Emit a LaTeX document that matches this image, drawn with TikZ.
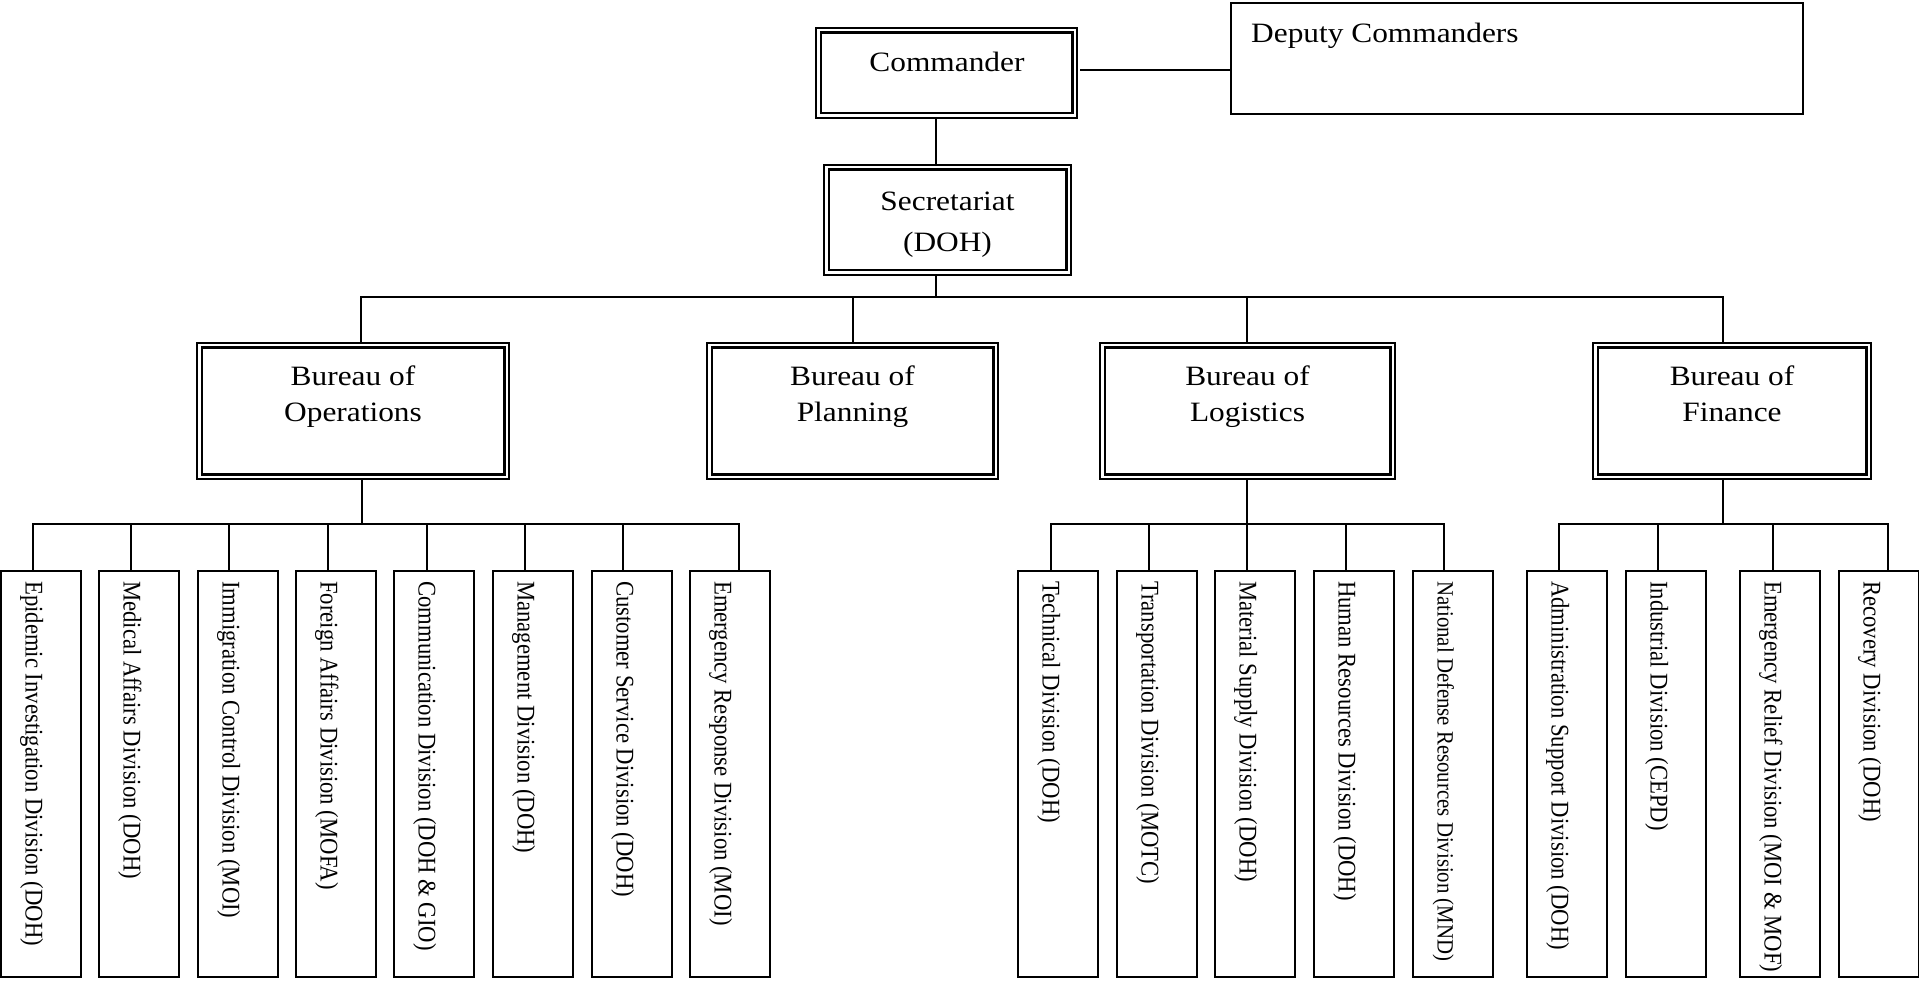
\documentclass[tikz,border=0pt]{standalone}
\usepackage{fontspec}
\setmainfont{Liberation Serif}
\newfontfamily\widefont[FakeStretch=1.12]{Liberation Serif}
\usepackage{graphicx}
\usetikzlibrary{calc}
\tikzset{
  dbox/.style={draw, line width=2.3pt, double, double distance=2.2pt, fill=white, outer sep=3.4pt, inner sep=0pt},
  sbox/.style={draw, line width=1.8pt, fill=white, outer sep=0.9pt, inner sep=0pt},
  divbox/.style={sbox, minimum width=80.2pt, minimum height=406.2pt, anchor=north west},
  conn/.style={line width=1.8pt, line cap=rect},
  bigtext/.style={font=\widefont\fontsize{28pt}{36pt}\selectfont, align=center, inner sep=0pt},
  divtext/.style={rotate=-90, anchor=base west, inner sep=0pt},
}
\newcommand{\vtxt}[2]{{\fontsize{#1pt}{#1pt}\selectfont\scalebox{1}[1.12]{#2}}}
\begin{document}
\begin{tikzpicture}[x=1pt,y=-1pt]
\useasboundingbox (0,0) rectangle (1919,981);

% top level
\node[dbox, minimum width=256.2pt, minimum height=85.2pt, anchor=north west] (cmd) at (815,27) {};
\node[bigtext, anchor=base] (cmdT) at (947,72) {Commander};
\node[sbox, minimum width=572.2pt, minimum height=111.2pt, anchor=north west] (dep) at (1230,2) {};
\node[bigtext, anchor=base west] (depT) at (1251,43) {Deputy Commanders};
\node[dbox, minimum width=242.2pt, minimum height=105.2pt, anchor=north west] (sec) at (823,164) {};
\node[bigtext, anchor=north, font=\widefont\fontsize{28pt}{41pt}\selectfont] (secT) at (947.5,192) {Secretariat\\(DOH)};

% bureaus
\node[dbox, minimum width=307.2pt, minimum height=131.2pt, anchor=north west] (ops) at (196,342) {};
\node[dbox, minimum width=286.2pt, minimum height=131.2pt, anchor=north west] (pla) at (706,342) {};
\node[dbox, minimum width=290.2pt, minimum height=131.2pt, anchor=north west] (log) at (1099,342) {};
\node[dbox, minimum width=273.2pt, minimum height=131.2pt, anchor=north west] (fin) at (1592,342) {};
\node[bigtext, anchor=north] (opsT) at (353,366) {Bureau of\\Operations};
\node[bigtext, anchor=north] (plaT) at (852.5,366) {Bureau of\\Planning};
\node[bigtext, anchor=north] (logT) at (1247.5,366) {Bureau of\\Logistics};
\node[bigtext, anchor=north] (finT) at (1732,366) {Bureau of\\Finance};

% connectors at top
\coordinate (trunk) at (936,297);
\draw[conn] (cmd.east) ++(3,-3) coordinate (cd) -- (cd -| dep.west);
\draw[conn] (cmd.south -| trunk) -- (sec.north -| trunk);
\draw[conn] (sec.south -| trunk) -- (trunk);
\coordinate (bOps) at (361,297);
\coordinate (bPla) at (853,297);
\coordinate (bLog) at (1247,297);
\coordinate (bFin) at (1723,297);
\draw[conn] (bOps) -- (bFin);
\foreach \c/\b in {bOps/ops, bPla/pla, bLog/log, bFin/fin}{
  \draw[conn] (\c) -- (\c |- \b.north);
}

% sub-bus coordinates
\coordinate (sOps) at (362,524);
\coordinate (sLog) at (1247,524);
\coordinate (sFin) at (1723,524);
\draw[conn] (ops.south -| sOps) -- (sOps);
\draw[conn] (log.south -| sLog) -- (sLog);
\draw[conn] (fin.south -| sFin) -- (sFin);

% divisions
\foreach \n/\l/\d/\s/\t/\bus in {
  o1/0/33/22.7/{Epidemic Investigation Division (DOH)}/sOps,
  o2/98/131/22.7/{Medical Affairs Division (DOH)}/sOps,
  o3/197/229/22.7/{Immigration Control Division (MOI)}/sOps,
  o4/295/328/22.7/{Foreign Affairs Division (MOFA)}/sOps,
  o5/393/427/22.7/{Communication Division (DOH \& GIO)}/sOps,
  o6/492/525/22.7/{Management Division (DOH)}/sOps,
  o7/591/623/22.7/{Customer Service Division (DOH)}/sOps,
  o8/689/739/22.7/{Emergency Response Division (MOI)}/sOps,
  l1/1017/1051/22.7/{Technical Division (DOH)}/sLog,
  l2/1116/1149/22.7/{Transportation Division (MOTC)}/sLog,
  l3/1214/1247/22.7/{Material Supply Division (DOH)}/sLog,
  l4/1313/1346/22.7/{Human Resources Division (DOH)}/sLog,
  l5/1412/1444/20.8/{National Defense Resources Division (MND)}/sLog,
  f1/1526/1559/22.7/{Administration Support Division (DOH)}/sFin,
  f2/1625/1658/22.7/{Industrial Division (CEPD)}/sFin,
  f3/1739/1773/22.7/{Emergency Relief Division (MOI \& MOF)}/sFin,
  f4/1838/1888/22.7/{Recovery Division (DOH)}/sFin}{
  \node[divbox] (\n) at (\l,570) {};
  \node[divtext] (\n T) at (\l+25.5,581) {\vtxt{\s}{\t}};
  \path (\n.north west) ++(\d-\l,0) coordinate (\n D);
  \draw[conn] (\n D) -- (\n D |- \bus);
}
\draw[conn] (o1D |- sOps) -- (o8D |- sOps);
\draw[conn] (l1D |- sLog) -- (l5D |- sLog);
\draw[conn] (f1D |- sFin) -- (f4D |- sFin);
\end{tikzpicture}
\end{document}
